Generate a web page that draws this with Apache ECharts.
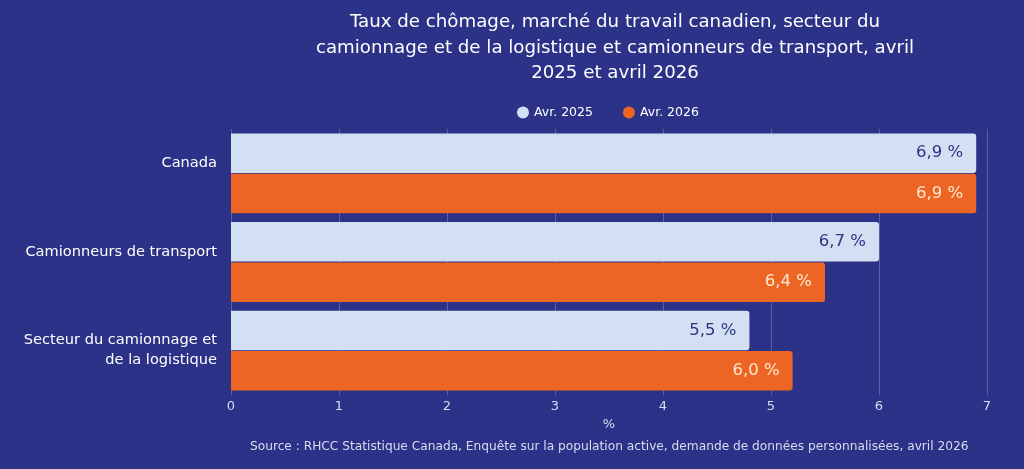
<!DOCTYPE html>
<html>
<head>
<meta charset="utf-8">
<script src="https://cdn.jsdelivr.net/npm/echarts@6/dist/echarts.min.js"></script>
<style>
html, body { margin: 0; padding: 0; background: #2b3287; }
#main { width: 1024px; height: 469px; }
</style>
</head>
<body>
<div id="main"></div>
<script>
var categories = ['Canada', 'Camionneurs de transport', 'Secteur du camionnage et\nde la logistique'];
var seriesNames = ['Avr. 2025', 'Avr. 2026'];
// bar lengths as drawn in the picture
var values2025 = [6.9, 6.0, 4.8];
var values2026 = [6.9, 5.5, 5.2];
// printed labels
var labels2025 = ['6,9 %', '6,7 %', '5,5 %'];
var labels2026 = ['6,9 %', '6,4 %', '6,0 %'];
var xTicks = [0, 1, 2, 3, 4, 5, 6, 7];

var font = '"DejaVu Sans", sans-serif';

var myChart = echarts.init(document.getElementById('main'));
var option = {
    backgroundColor: '#2b3287',
    textStyle: { fontFamily: font },
    title: {
        text: 'Taux de chômage, marché du travail canadien, secteur du\ncamionnage et de la logistique et camionneurs de transport, avril\n2025 et avril 2026',
        left: 610,
        textAlign: 'center',
        top: 5,
        textStyle: {
            color: '#ffffff',
            fontSize: 18.2,
            fontWeight: 'normal',
            lineHeight: 25.5,
            fontFamily: font
        }
    },
    legend: {
        top: 101,
        left: 512,
        itemWidth: 12,
        itemHeight: 12,
        itemGap: 30,
        icon: 'circle',
        data: seriesNames,
        textStyle: { color: '#ffffff', fontSize: 12.5, fontFamily: font }
    },
    graphic: [{
        type: 'text',
        left: 250,
        top: 441,
        style: {
            text: 'Source : RHCC Statistique Canada, Enquête sur la population active, demande de données personnalisées, avril 2026',
            fill: '#d9dcef',
            fontSize: 12.2,
            fontFamily: font
        }
    }],
    grid: { left: 231, right: 37, top: 129, bottom: 74 },
    xAxis: {
        type: 'value',
        min: 0,
        max: 7,
        interval: 1,
        name: '%',
        nameLocation: 'middle',
        nameGap: 22,
        nameTextStyle: { color: '#d9dcef', fontSize: 13 },
        axisLabel: {
            color: '#d9dcef',
            fontSize: 13,
            margin: 5,
            formatter: function (v) { return xTicks.indexOf(v) >= 0 ? String(v) : ''; }
        },
        axisLine: { show: false },
        axisTick: { show: false },
        splitLine: { lineStyle: { color: 'rgba(255,255,255,0.22)', width: 1 } }
    },
    yAxis: {
        type: 'category',
        inverse: true,
        data: categories,
        axisLine: { show: false },
        axisTick: { show: false },
        axisLabel: {
            color: '#ffffff',
            fontSize: 14.6,
            margin: 14,
            lineHeight: 20,
            align: 'right',
            // single-line labels sit a little above the band centre
            formatter: function (v) { return v.indexOf('\n') >= 0 ? v : v + '\n'; }
        }
    },
    series: [{
        name: seriesNames[0],
        type: 'bar',
        data: values2025,
        barCategoryGap: '10%',
        barGap: '2%',
        itemStyle: { color: '#d3dff2', borderRadius: [0, 3, 3, 0] },
        label: {
            show: true,
            position: 'insideRight',
            distance: 13,
            color: '#2b3585',
            fontSize: 16.5,
            formatter: function (p) { return labels2025[p.dataIndex]; }
        }
    }, {
        name: seriesNames[1],
        type: 'bar',
        data: values2026,
        barCategoryGap: '10%',
        barGap: '2%',
        itemStyle: { color: '#ed6524', borderRadius: [0, 3, 3, 0] },
        label: {
            show: true,
            position: 'insideRight',
            distance: 13,
            color: '#fde9cf',
            fontSize: 16.5,
            formatter: function (p) { return labels2026[p.dataIndex]; }
        }
    }]
};
myChart.setOption(option);
</script>
</body>
</html>
